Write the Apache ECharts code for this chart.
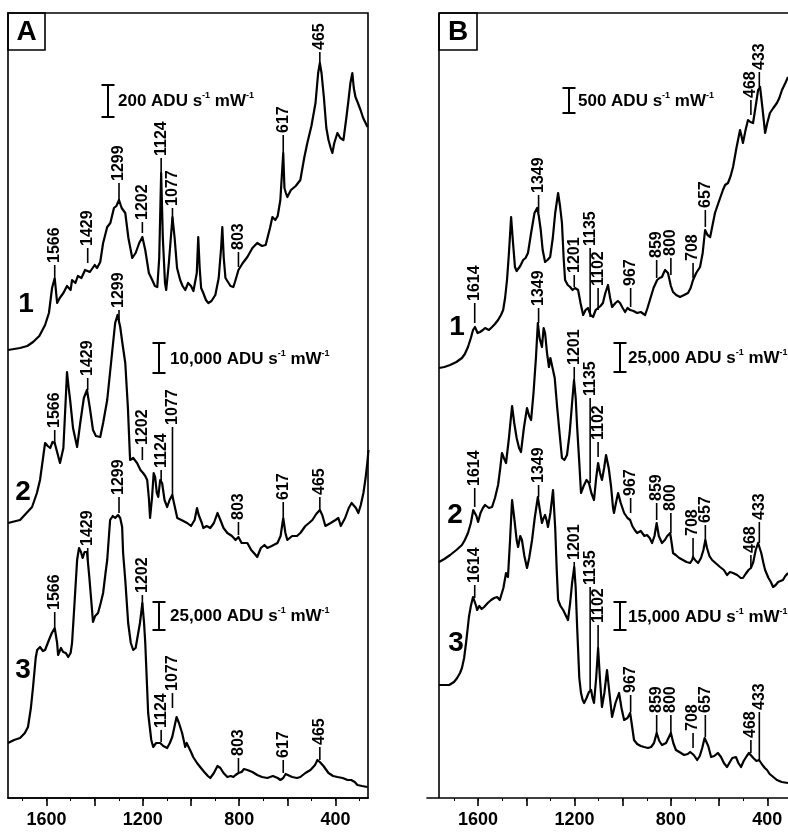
<!DOCTYPE html>
<html><head><meta charset="utf-8">
<script src="https://cdn.jsdelivr.net/npm/echarts@6/dist/echarts.min.js"></script>
<style>html,body{margin:0;padding:0;background:#fff}#c{width:788px;height:836px}</style>
</head><body><div id="c"></div>
<script>
// ---------- DATA (wavenumber cm-1, stacked intensity in plot units) ----------
const A1 = [[1760,448],[1710,450],[1680,452],[1656,456],[1630,462],[1606,473],[1590,485],[1577,510],[1566,520],[1556,495],[1545,500],[1530,505],[1515,512],[1500,508],[1494,518],[1480,515],[1470,522],[1455,520],[1440,528],[1432,530],[1420,526],[1400,533],[1390,530],[1377,536],[1365,555],[1348,571],[1335,575],[1320,590],[1310,592],[1299,598],[1288,590],[1273,585],[1260,560],[1244,540],[1230,545],[1215,555],[1202,561],[1190,548],[1175,525],[1161,518],[1150,512],[1140,511],[1132,540],[1124,625],[1117,560],[1108,515],[1103,508],[1092,535],[1077,581],[1068,560],[1058,530],[1045,518],[1035,512],[1024,508],[1012,515],[1000,512],[990,507],[982,505],[976,525],[970,561],[964,530],[958,510],[949,505],[938,498],[928,495],[915,497],[899,503],[885,520],[875,550],[870,571],[864,540],[857,520],[849,518],[836,512],[824,511],[815,518],[803,528],[785,535],[766,541],[745,550],[725,555],[705,552],[690,553],[683,551],[672,570],[662,581],[650,578],[640,582],[629,598],[622,600],[617,645],[612,610],[606,605],[600,601],[585,608],[565,612],[546,618],[530,640],[517,655],[500,672],[483,695],[472,725],[465,735],[458,725],[448,700],[438,670],[429,658],[420,650],[413,645],[405,655],[392,665],[380,660],[367,658],[355,680],[346,698],[338,715],[330,725],[324,710],[317,701],[307,695],[296,688],[285,680],[275,675],[267,671]];
const A2 = [[1760,275],[1710,278],[1660,291],[1640,305],[1627,318],[1606,355],[1595,352],[1585,350],[1575,356],[1566,355],[1555,345],[1544,335],[1530,350],[1520,400],[1515,426],[1508,410],[1502,398],[1490,370],[1473,351],[1460,375],[1445,400],[1432,408],[1420,390],[1407,368],[1395,362],[1377,361],[1365,375],[1348,398],[1330,440],[1315,475],[1305,483],[1294,471],[1285,455],[1273,435],[1262,390],[1253,338],[1240,340],[1224,335],[1210,328],[1199,325],[1190,322],[1182,318],[1175,300],[1170,280],[1162,300],[1155,325],[1149,321],[1142,305],[1136,301],[1128,318],[1120,315],[1110,298],[1099,291],[1089,298],[1078,303],[1068,292],[1057,280],[1040,278],[1016,275],[1000,272],[985,278],[975,290],[968,283],[962,281],[955,275],[949,270],[935,272],[920,270],[905,275],[890,285],[878,278],[865,270],[849,265],[830,262],[815,258],[803,261],[790,255],[766,255],[750,248],[735,244],[725,241],[710,250],[695,253],[683,250],[665,252],[641,255],[628,262],[617,280],[608,265],[600,258],[580,262],[560,262],[546,265],[525,272],[510,275],[496,278],[480,284],[465,288],[455,283],[442,272],[434,271],[420,275],[400,278],[388,280],[378,272],[371,271],[360,280],[345,290],[333,295],[326,293],[315,290],[305,285],[295,293],[284,305],[275,320],[268,335],[263,348]];
const A3 = [[1760,55],[1735,58],[1710,60],[1690,65],[1677,71],[1665,90],[1656,111],[1645,140],[1639,148],[1627,151],[1615,147],[1606,148],[1590,158],[1578,165],[1566,170],[1556,155],[1552,143],[1540,150],[1531,146],[1520,145],[1510,141],[1500,145],[1494,155],[1485,190],[1473,238],[1465,250],[1457,246],[1450,240],[1442,246],[1432,246],[1422,220],[1411,188],[1407,176],[1398,182],[1386,185],[1375,195],[1365,205],[1355,225],[1348,238],[1336,278],[1325,282],[1315,280],[1303,283],[1294,280],[1286,271],[1282,245],[1273,218],[1261,175],[1250,155],[1240,148],[1230,150],[1224,151],[1212,175],[1202,195],[1195,175],[1190,155],[1178,85],[1165,58],[1157,51],[1145,55],[1128,55],[1115,52],[1099,50],[1088,55],[1078,61],[1068,72],[1060,81],[1050,75],[1037,65],[1024,51],[1018,55],[1012,53],[1000,46],[991,41],[975,35],[962,31],[945,26],[930,22],[920,20],[905,25],[890,32],[878,30],[865,25],[849,21],[835,22],[824,21],[815,23],[803,25],[790,26],[780,29],[766,28],[745,26],[725,23],[705,21],[683,20],[660,22],[640,20],[629,18],[617,20],[607,24],[600,23],[580,21],[560,20],[546,21],[525,25],[504,28],[485,33],[475,38],[465,36],[450,32],[438,28],[429,25],[410,22],[392,21],[370,20],[350,18],[335,18],[320,16],[309,13],[290,12],[267,11]];
const B1 = [[1762,430],[1740,431],[1716,433],[1690,436],[1667,440],[1655,444],[1642,451],[1630,460],[1621,468],[1613,471],[1602,465],[1592,466],[1580,468],[1571,470],[1555,468],[1542,471],[1530,474],[1517,478],[1505,483],[1496,488],[1488,500],[1480,518],[1472,545],[1463,581],[1455,555],[1447,531],[1440,527],[1434,525],[1425,532],[1413,538],[1403,540],[1393,545],[1380,565],[1366,585],[1355,590],[1348,582],[1340,568],[1332,548],[1322,536],[1312,538],[1301,541],[1290,560],[1280,585],[1268,605],[1260,592],[1252,575],[1245,540],[1239,518],[1228,513],[1218,511],[1208,508],[1198,510],[1185,508],[1175,495],[1164,483],[1154,488],[1144,490],[1133,483],[1123,481],[1112,488],[1102,490],[1092,492],[1082,495],[1072,505],[1061,513],[1052,500],[1044,491],[1030,495],[1020,497],[1011,495],[1000,490],[990,486],[980,490],[969,488],[955,487],[940,485],[925,486],[907,483],[897,490],[887,498],[872,510],[857,518],[847,520],[837,521],[830,525],[824,528],[818,527],[812,525],[800,512],[791,506],[778,503],[762,501],[745,503],[729,505],[718,510],[708,518],[695,525],[679,531],[668,545],[658,568],[648,563],[637,561],[627,573],[617,585],[600,597],[584,608],[575,613],[563,615],[552,622],[542,631],[528,650],[513,668],[507,662],[501,655],[490,668],[480,678],[470,676],[459,675],[448,692],[438,708],[430,711],[420,690],[409,665],[400,675],[389,685],[375,690],[360,695],[350,700],[339,708],[325,715],[314,721]];
const B2 = [[1762,236],[1740,239],[1716,243],[1690,248],[1667,253],[1655,258],[1642,265],[1630,275],[1620,288],[1614,290],[1607,282],[1600,276],[1590,285],[1580,290],[1571,293],[1555,290],[1542,291],[1530,300],[1517,313],[1508,330],[1501,345],[1493,340],[1484,335],[1472,360],[1459,392],[1450,375],[1440,360],[1430,350],[1422,346],[1410,370],[1397,390],[1388,382],[1380,378],[1370,405],[1360,440],[1352,475],[1345,460],[1335,451],[1328,470],[1322,465],[1314,445],[1306,431],[1300,440],[1293,441],[1282,420],[1272,391],[1262,365],[1252,340],[1242,338],[1231,343],[1220,365],[1210,395],[1202,418],[1195,400],[1189,371],[1180,335],[1173,305],[1162,312],[1150,318],[1140,315],[1130,305],[1119,298],[1110,320],[1102,335],[1094,325],[1086,318],[1077,330],[1069,343],[1058,330],[1048,311],[1040,290],[1036,285],[1028,295],[1019,305],[1008,295],[994,285],[980,280],[969,278],[960,272],[950,268],[940,265],[925,267],[910,262],[899,263],[888,260],[878,255],[868,262],[859,275],[850,262],[837,255],[825,258],[815,262],[803,265],[795,252],[791,245],[780,243],[765,240],[750,238],[735,236],[720,235],[712,238],[708,241],[700,238],[687,235],[675,240],[665,248],[657,258],[650,250],[640,242],[629,238],[615,235],[596,231],[580,228],[567,223],[555,226],[542,225],[525,223],[510,220],[501,220],[490,224],[478,228],[468,230],[458,236],[448,248],[438,255],[433,255],[425,245],[416,235],[409,228],[395,220],[385,216],[376,211],[365,213],[355,216],[347,215],[335,218],[325,222],[314,225]];
const B3 = [[1762,113],[1740,113],[1720,113],[1700,116],[1687,120],[1675,125],[1667,130],[1658,140],[1650,155],[1643,170],[1638,181],[1630,192],[1621,201],[1614,200],[1608,192],[1604,188],[1595,192],[1585,189],[1575,191],[1560,195],[1546,198],[1533,200],[1521,201],[1510,198],[1505,198],[1495,210],[1484,225],[1476,221],[1468,255],[1459,298],[1450,280],[1440,258],[1434,251],[1425,262],[1418,258],[1408,242],[1397,230],[1388,240],[1376,258],[1365,280],[1352,301],[1345,290],[1335,275],[1328,280],[1322,283],[1315,277],[1310,271],[1300,285],[1289,308],[1280,270],[1274,230],[1268,198],[1258,192],[1247,188],[1237,183],[1227,178],[1218,195],[1210,215],[1201,231],[1195,210],[1189,171],[1180,120],[1173,105],[1166,98],[1160,95],[1150,100],[1140,106],[1131,108],[1125,100],[1119,95],[1110,120],[1102,150],[1094,118],[1086,91],[1076,105],[1065,128],[1055,105],[1044,81],[1030,95],[1015,105],[1005,90],[994,78],[980,80],[969,85],[960,70],[953,58],[940,54],[925,52],[911,51],[895,50],[882,51],[870,55],[859,65],[848,57],[837,53],[820,55],[810,60],[800,65],[790,55],[779,48],[765,46],[745,43],[730,44],[720,46],[712,48],[705,43],[691,38],[680,42],[670,50],[660,60],[654,61],[645,52],[633,41],[620,42],[605,45],[592,41],[580,35],[567,31],[555,36],[545,40],[530,41],[520,35],[509,31],[498,37],[485,42],[476,45],[468,45],[458,40],[445,37],[434,38],[420,33],[410,30],[401,28],[390,24],[375,21],[360,18],[340,16],[314,15]];

// peak labels: [wavenumber, tick bottom, tick top]
const LA1 = [[1566,521,533],[1429,535,550],[1299,598,615],[1202,565,576],[1124,625,640],[1077,576,590],[803,531,546],[617,645,663],[465,733,746]];
const LA2 = [[1566,353,368],[1429,408,420],[1299,475,488],[1202,338,351],[1124,316,328],[1077,301,371],[803,263,276],[617,281,296],[465,288,301]];
const LA3 = [[1566,171,186],[1429,238,250],[1299,285,301],[1202,193,203],[1124,56,68],[1077,90,105],[803,26,40],[617,25,38],[465,38,51]];
const LB1 = [[1614,475,495],[1349,585,603],[1201,511,523],[1135,481,550],[1102,488,510],[967,491,510],[859,520,538],[800,523,540],[708,520,535],[657,571,588],[468,683,698],[433,711,726]];
const LB2 = [[1614,291,310],[1349,475,490],[1201,418,431],[1135,315,400],[1102,341,356],[967,285,300],[859,278,295],[800,265,285],[708,241,260],[657,255,273],[468,230,243],[433,255,276]];
const LB3 = [[1614,200,213],[1349,301,313],[1201,225,236],[1135,108,211],[1102,150,173],[967,86,103],[859,65,83],[800,65,83],[708,50,65],[657,61,83],[468,45,58],[433,38,86]];

const tickLabels = [1600, 1200, 800, 400];
const tickMarks = [1600, 1400, 1200, 1000, 800, 600, 400];
const topTicks = [1700,1600,1500,1400,1300,1200,1100,1000,900,800,700,600,500,400,300];
const scaleTextsA = ['200', '10,000', '25,000'];
const scaleTextsB = ['500', '25,000', '15,000'];

// ---------- CHART ----------
const FONT = "'Liberation Sans', Arial, Helvetica, sans-serif";
const chart = echarts.init(document.getElementById('c'), null, {renderer: 'canvas'});

function spec(data, i) {
  return {type: 'line', xAxisIndex: i, yAxisIndex: i, data: data, symbol: 'none', showSymbol: false,
    lineStyle: {color: '#000', width: 2.2, join: 'round'}, silent: true, animation: false, z: 3};
}
function labels(data, i) {
  return {type: 'custom', xAxisIndex: i, yAxisIndex: i, data: data, silent: true, animation: false, z: 4,
    encode: {x: 0, y: 1},
    renderItem: function (params, api) {
      const wn = api.value(0);
      const p0 = api.coord([wn, api.value(1)]);
      const p1 = api.coord([wn, api.value(2)]);
      return {type: 'group', children: [
        {type: 'line', shape: {x1: p0[0], y1: p0[1], x2: p1[0], y2: p1[1]}, style: {stroke: '#000', lineWidth: 1.6}},
        {type: 'text', x: p1[0], y: p1[1] - 2, rotation: Math.PI / 2,
          style: {text: String(wn), fontSize: 16, fontWeight: 'bold', fontFamily: FONT, fill: '#000', align: 'left', verticalAlign: 'middle'}}
      ]};
    }};
}
function xBottom(i, min, max) {
  return {gridIndex: i, type: 'value', inverse: true, min: min, max: max, position: 'bottom',
    axisLine: {show: true, onZero: false, lineStyle: {color: '#000', width: 1.6}},
    axisTick: {show: true, inside: false, length: 8, lineStyle: {color: '#000', width: 1.6}, customValues: tickMarks},
    axisLabel: {show: true, margin: 13, color: '#000', fontSize: 18, fontWeight: 'bold', fontFamily: FONT,
      customValues: tickLabels, formatter: function (v) { return String(v); }},
    splitLine: {show: false}, minorTick: {show: false}};
}
function xTop(i, min, max) {
  return {gridIndex: i, type: 'value', inverse: true, min: min, max: max, position: 'top',
    axisLine: {show: false},
    axisTick: {show: true, inside: true, length: 3, lineStyle: {color: '#000', width: 1}, customValues: topTicks},
    axisLabel: {show: false}, splitLine: {show: false}};
}
function yAx(i) {
  return {gridIndex: i, type: 'value', min: 0, max: 785, show: false};
}
function scaleBar(cx, y0, y1, tx, ty, val) {
  return [
    {type: 'polyline', silent: true, shape: {points: [[cx - 6.5, y0], [cx + 6.5, y0]]}, style: {stroke: '#000', lineWidth: 2}},
    {type: 'polyline', silent: true, shape: {points: [[cx, y0], [cx, y1]]}, style: {stroke: '#000', lineWidth: 2}},
    {type: 'polyline', silent: true, shape: {points: [[cx - 6.5, y1], [cx + 6.5, y1]]}, style: {stroke: '#000', lineWidth: 2}},
    {type: 'text', silent: true, x: tx, y: ty, style: {
      text: '{a|' + val + ' ADU s}{s|-1}{a| mW}{s|-1}', align: 'left', verticalAlign: 'middle',
      rich: {a: {fontSize: 17, fontWeight: 'bold', fontFamily: FONT, fill: '#000', lineHeight: 20},
             s: {fontSize: 9, fontWeight: 'bold', fontFamily: FONT, fill: '#000', verticalAlign: 'top', lineHeight: 12}}}}
  ];
}
function letterBox(x0, y0, w, h, t) {
  return [
    {type: 'rect', silent: true, shape: {x: x0, y: y0, width: w, height: h}, style: {fill: 'none', stroke: '#000', lineWidth: 1.6}},
    {type: 'text', silent: true, x: x0 + w / 2, y: y0 + h / 2 + 1, style: {text: t, fontSize: 28, fontWeight: 'bold', fontFamily: FONT, fill: '#000', align: 'center', verticalAlign: 'middle'}}
  ];
}
function num(x, y, t) {
  return {type: 'text', silent: true, x: x, y: y, style: {text: t, fontSize: 28, fontWeight: 'bold', fontFamily: FONT, fill: '#000', align: 'center', verticalAlign: 'middle'}};
}

const b1 = spec(B1, 1);
b1.markLine = {silent: true, symbol: ['none', 'none'], animation: false, label: {show: false},
  lineStyle: {color: '#000', width: 1.6, type: 'solid'},
  data: [[{coord: [1762, 0]}, {coord: [1762, 785]}], [{coord: [1762, 785]}, {coord: [314, 785]}]]};

const option = {
  backgroundColor: '#fff',
  animation: false,
  grid: [
    {left: 8, top: 13, width: 360, height: 785, show: true, borderColor: '#000', borderWidth: 1.6, backgroundColor: 'transparent'},
    {left: 427, top: 13, width: 361, height: 785, show: false}
  ],
  xAxis: [xBottom(0, 265, 1760), xBottom(1, 314, 1812), xTop(0, 265, 1760), xTop(1, 314, 1812)],
  yAxis: [yAx(0), yAx(1)],
  series: [spec(A1, 0), spec(A2, 0), spec(A3, 0), b1, spec(B2, 1), spec(B3, 1),
    labels(LA1, 0), labels(LA2, 0), labels(LA3, 0), labels(LB1, 1), labels(LB2, 1), labels(LB3, 1)],
  graphic: [].concat(
    letterBox(8, 13, 37, 37, 'A'), letterBox(439, 13, 38, 37, 'B'),
    scaleBar(108, 85, 117, 118, 101, scaleTextsA[0]),
    scaleBar(159, 343, 373, 170, 359, scaleTextsA[1]),
    scaleBar(159, 602, 630, 170, 616, scaleTextsA[2]),
    scaleBar(569, 88, 113, 578, 101, scaleTextsB[0]),
    scaleBar(620, 343, 372, 628, 358, scaleTextsB[1]),
    scaleBar(620, 602, 630, 628, 617, scaleTextsB[2]),
    [num(26, 304, '1'), num(23, 492, '2'), num(23, 670, '3'), num(457, 327, '1'), num(455, 515, '2'), num(456, 643, '3')]
  )
};
chart.setOption(option);
</script></body></html>
